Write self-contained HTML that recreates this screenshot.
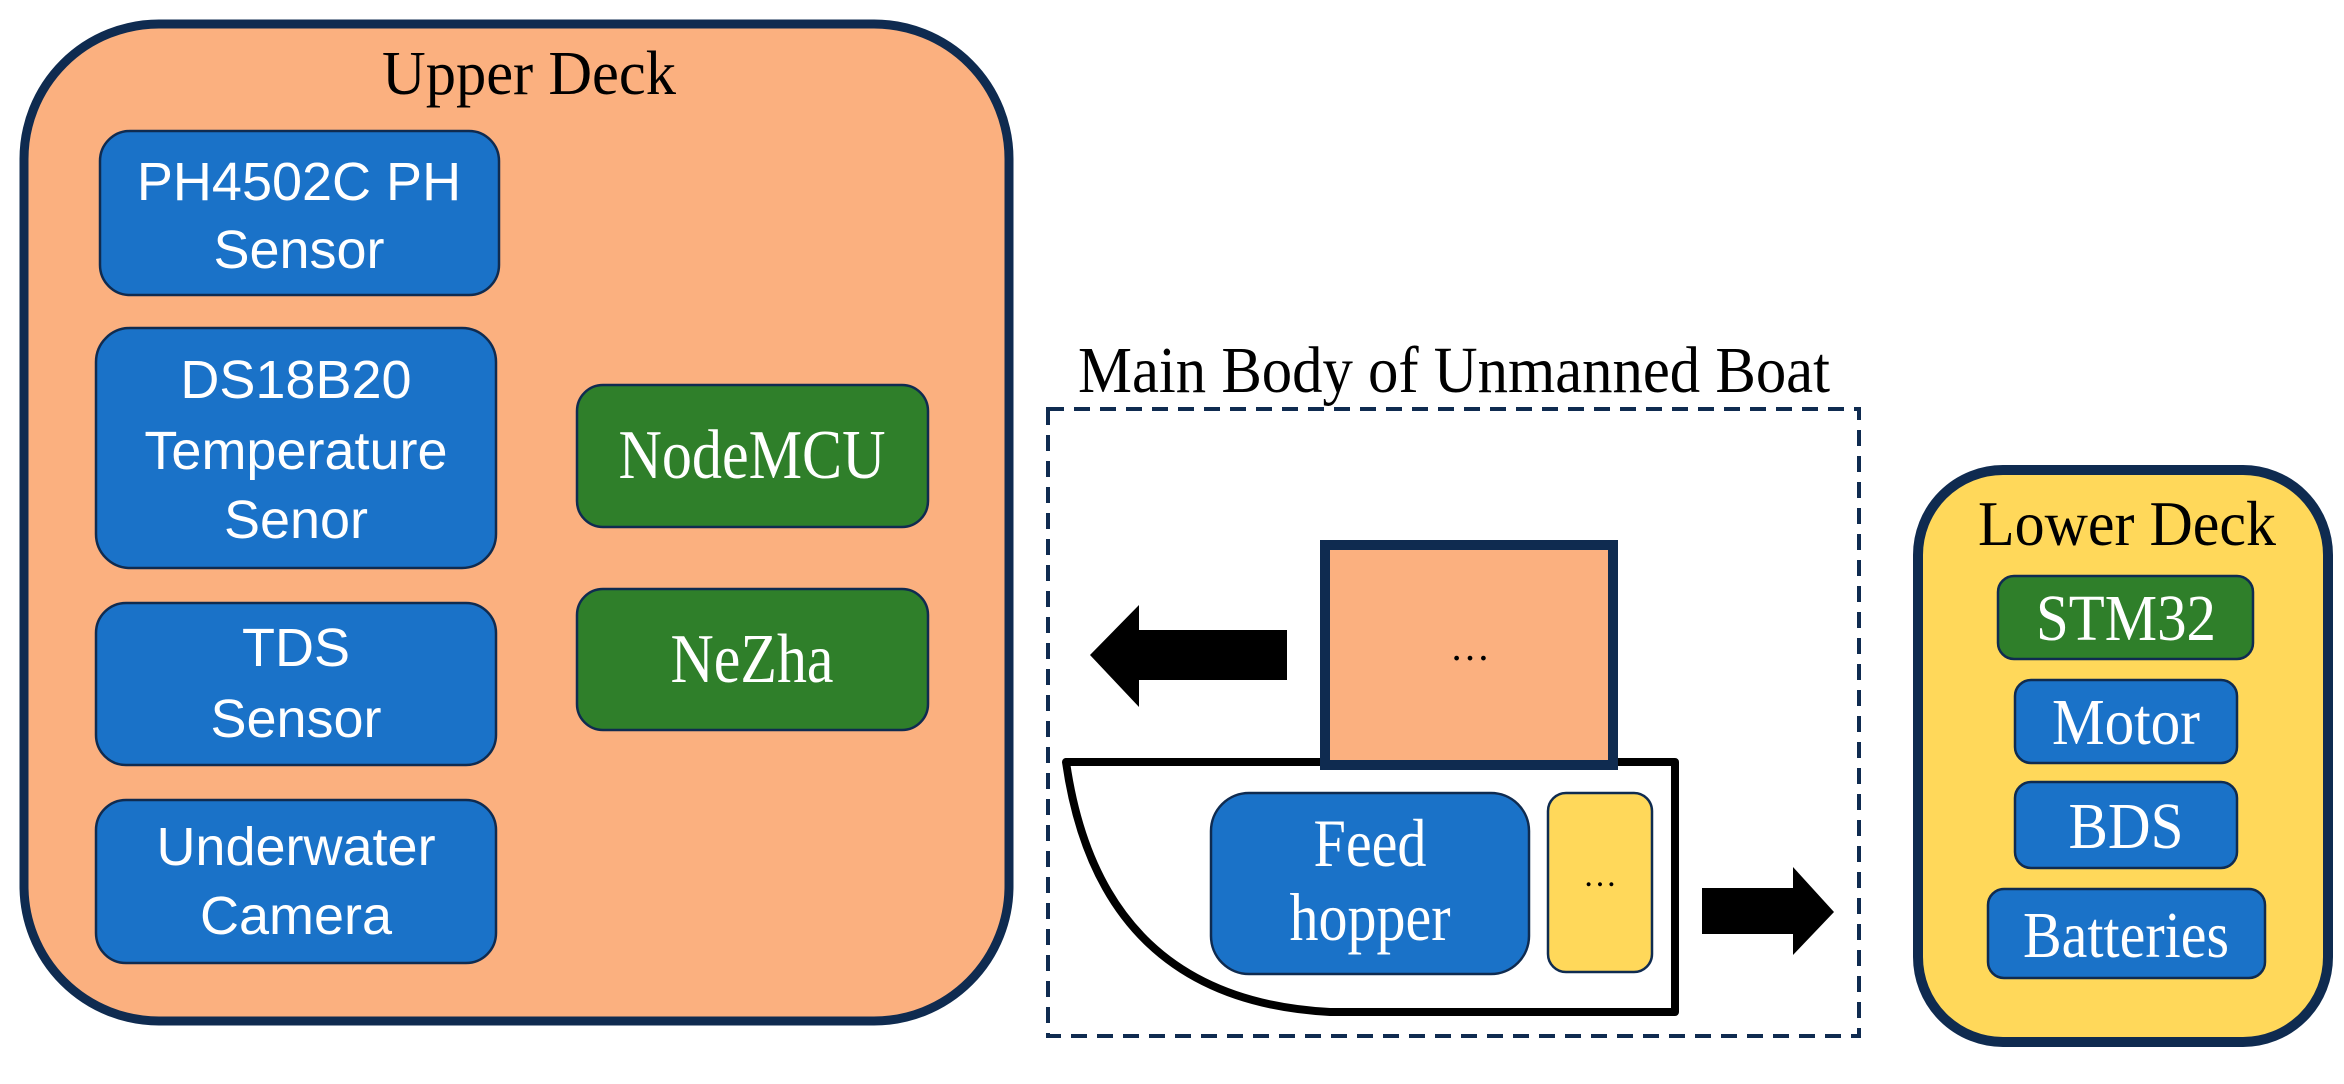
<!DOCTYPE html>
<html><head><meta charset="utf-8"><style>
html,body{margin:0;padding:0;background:#fff}
svg{display:block}
.s{font-family:"Liberation Sans",sans-serif;fill:#fff;font-size:54px;text-anchor:middle}
.t{font-family:"Liberation Serif",serif;text-anchor:middle}
</style></head><body>
<svg width="2344" height="1084" viewBox="0 0 2344 1084" xmlns="http://www.w3.org/2000/svg">
<!-- Upper deck -->
<rect x="24" y="24" width="985" height="997" rx="135" fill="#FBB07F" stroke="#0F2B50" stroke-width="9"/>
<text class="t" x="529" y="94" font-size="62" fill="#000" textLength="294" lengthAdjust="spacingAndGlyphs">Upper Deck</text>
<g fill="#1A72C8" stroke="#0F2B50" stroke-width="2.5">
<rect x="100" y="131" width="399" height="164" rx="30"/>
<rect x="96" y="328" width="400" height="240" rx="34"/>
<rect x="96" y="603" width="400" height="162" rx="30"/>
<rect x="96" y="800" width="400" height="163" rx="30"/>
</g>
<g fill="#2F7F2A" stroke="#0F2B50" stroke-width="2.5">
<rect x="577" y="385" width="351" height="142" rx="26"/>
<rect x="577" y="589" width="351" height="141" rx="26"/>
</g>
<text class="s" x="299" y="200">PH4502C PH</text>
<text class="s" x="299" y="268">Sensor</text>
<text class="s" x="296" y="398">DS18B20</text>
<text class="s" x="296" y="469">Temperature</text>
<text class="s" x="296" y="538">Senor</text>
<text class="s" x="296" y="666">TDS</text>
<text class="s" x="296" y="737">Sensor</text>
<text class="s" x="296" y="865">Underwater</text>
<text class="s" x="296" y="934">Camera</text>
<text class="t" x="752" y="478" font-size="70" fill="#fff" textLength="267" lengthAdjust="spacingAndGlyphs">NodeMCU</text>
<text class="t" x="752" y="682" font-size="70" fill="#fff" textLength="163" lengthAdjust="spacingAndGlyphs">NeZha</text>

<!-- Main body -->
<text class="t" x="1454" y="392" font-size="66" fill="#000" textLength="752" lengthAdjust="spacingAndGlyphs">Main Body of Unmanned Boat</text>
<rect x="1048" y="409" width="811" height="627" fill="none" stroke="#0F2B50" stroke-width="4" stroke-dasharray="16,10"/>
<path d="M1066,762 L1675,762 L1675,1012 L1330,1012 Q1100,1000 1066,762 Z" fill="#fff" stroke="#000" stroke-width="8" stroke-linejoin="round"/>
<rect x="1325" y="545" width="288" height="220" fill="#FBB07F" stroke="#0F2B50" stroke-width="10"/>
<text class="t" x="1470" y="660" font-size="40" fill="#000">…</text>
<rect x="1211" y="793" width="318" height="181" rx="38" fill="#1A72C8" stroke="#0F2B50" stroke-width="2.5"/>
<text class="t" x="1370" y="866" font-size="68" fill="#fff" textLength="113" lengthAdjust="spacingAndGlyphs">Feed</text>
<text class="t" x="1370" y="940" font-size="68" fill="#fff" textLength="161" lengthAdjust="spacingAndGlyphs">hopper</text>
<rect x="1548" y="793" width="104" height="179" rx="18" fill="#FFD85A" stroke="#0F2B50" stroke-width="2.5"/>
<text class="t" x="1600" y="886" font-size="34" fill="#000">…</text>
<polygon points="1090,655 1139,605 1139,630 1287,630 1287,680 1139,680 1139,707" fill="#000"/>
<polygon points="1702,888 1793,888 1793,867 1834,912 1793,955 1793,934 1702,934" fill="#000"/>

<!-- Lower deck -->
<rect x="1918" y="470" width="410" height="572" rx="85" fill="#FFD85A" stroke="#0F2B50" stroke-width="10"/>
<text class="t" x="2127" y="545" font-size="64" fill="#000" textLength="298" lengthAdjust="spacingAndGlyphs">Lower Deck</text>
<rect x="1998" y="576" width="255" height="83" rx="16" fill="#2F7F2A" stroke="#0F2B50" stroke-width="2.5"/>
<g fill="#1A72C8" stroke="#0F2B50" stroke-width="2.5">
<rect x="2015" y="680" width="222" height="83" rx="16"/>
<rect x="2015" y="782" width="222" height="86" rx="16"/>
<rect x="1988" y="889" width="277" height="89" rx="16"/>
</g>
<text class="t" x="2126" y="640" font-size="66" fill="#fff" textLength="180" lengthAdjust="spacingAndGlyphs">STM32</text>
<text class="t" x="2126" y="744" font-size="66" fill="#fff" textLength="148" lengthAdjust="spacingAndGlyphs">Motor</text>
<text class="t" x="2126" y="848" font-size="66" fill="#fff" textLength="115" lengthAdjust="spacingAndGlyphs">BDS</text>
<text class="t" x="2126" y="957" font-size="66" fill="#fff" textLength="206" lengthAdjust="spacingAndGlyphs">Batteries</text>
</svg>
</body></html>
